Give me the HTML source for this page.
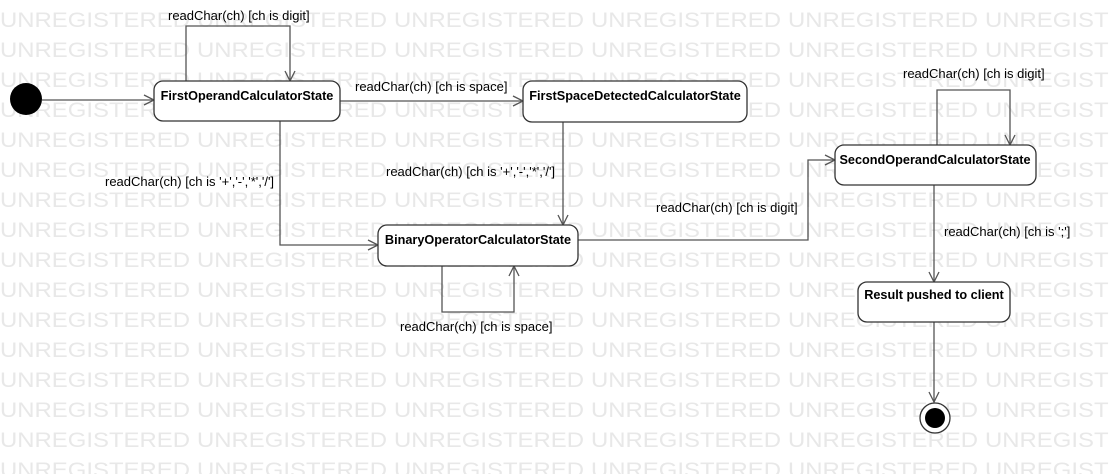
<!DOCTYPE html>
<html><head><meta charset="utf-8"><style>
html,body{margin:0;padding:0;background:#fff;}
svg{display:block;}
.wm{font-family:"Liberation Sans",sans-serif;font-size:21px;fill:#e8e8e8;}
.lb{font-family:"Liberation Sans",sans-serif;font-size:13px;fill:#000;}
.st{font-family:"Liberation Sans",sans-serif;font-size:12.7px;font-weight:bold;fill:#000;}
</style></head><body>
<svg width="1110" height="474" viewBox="0 0 1110 474" xmlns="http://www.w3.org/2000/svg">
<g class="wm" id="wm"></g>
<g stroke="#555" stroke-width="1.3" fill="none">
<path d="M42 100 H154"/><path d="M144 95 L154 100 L144 105"/>
<path d="M186 81 V26 H290 V81"/><path d="M285 71 L290 81 L295 71"/>
<path d="M340 101 H523"/><path d="M513 96 L523 101 L513 106"/>
<path d="M563 122 V225"/><path d="M558 215 L563 225 L568 215"/>
<path d="M280 121 V245 H378"/><path d="M368 240 L378 245 L368 250"/>
<path d="M442 266 V312 H514 V266"/><path d="M509 276 L514 266 L519 276"/>
<path d="M578 240 H808 V160 H835"/><path d="M825 155 L835 160 L825 165"/>
<path d="M937 145 V90 H1010 V145"/><path d="M1005 135 L1010 145 L1015 135"/>
<path d="M934 185 V282"/><path d="M929 272 L934 282 L939 272"/>
<path d="M934 322 V402"/><path d="M929 392 L934 402 L939 392"/>
</g>
<circle cx="26" cy="99" r="16" fill="#000"/>
<circle cx="935" cy="418" r="15" fill="#fff" stroke="#333" stroke-width="1.3"/>
<circle cx="935" cy="418" r="10" fill="#000"/>
<g fill="#fff" stroke="#333" stroke-width="1.3">
<rect x="154" y="81" width="186" height="40" rx="9"/>
<rect x="523" y="81" width="224" height="41" rx="9"/>
<rect x="378" y="225" width="200" height="41" rx="9"/>
<rect x="835" y="145" width="201" height="40" rx="9"/>
<rect x="858" y="282" width="152" height="40" rx="9"/>
</g>
<text class="st" x="247" y="100" text-anchor="middle">FirstOperandCalculatorState</text>
<text class="st" x="635" y="100" text-anchor="middle">FirstSpaceDetectedCalculatorState</text>
<text class="st" x="478" y="244" text-anchor="middle">BinaryOperatorCalculatorState</text>
<text class="st" x="935" y="164" text-anchor="middle">SecondOperandCalculatorState</text>
<text class="st" x="934" y="299" text-anchor="middle">Result pushed to client</text>
<text class="lb" x="168" y="20">readChar(ch) [ch is digit]</text>
<text class="lb" x="355" y="91">readChar(ch) [ch is space]</text>
<text class="lb" x="386" y="176">readChar(ch) [ch is '+','-','*','/']</text>
<text class="lb" x="105" y="186">readChar(ch) [ch is '+','-','*','/']</text>
<text class="lb" x="400" y="331">readChar(ch) [ch is space]</text>
<text class="lb" x="656" y="212">readChar(ch) [ch is digit]</text>
<text class="lb" x="903" y="78">readChar(ch) [ch is digit]</text>
<text class="lb" x="944" y="236">readChar(ch) [ch is ';']</text>
</svg>
<script>
var g=document.getElementById('wm');var s='';
for(var r=0;r<16;r++){for(var c=0;c<6;c++){s+='<text x="'+(c*197)+'" y="'+(27+r*30)+'" textLength="190" lengthAdjust="spacingAndGlyphs">UNREGISTERED</text>';}}
g.innerHTML=s;
</script>
</body></html>
